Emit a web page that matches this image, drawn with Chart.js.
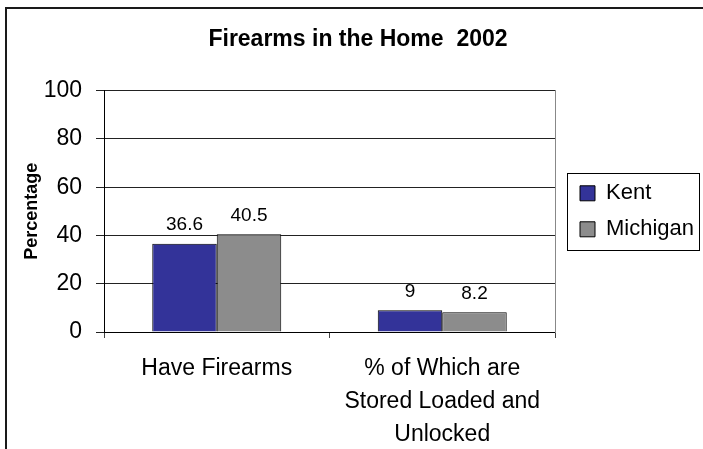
<!DOCTYPE html>
<html>
<head>
<meta charset="utf-8">
<title>Firearms in the Home 2002</title>
<script src="https://cdn.jsdelivr.net/npm/chart.js@4/dist/chart.umd.min.js"></script>
<style>
  body { margin: 0; background: #fff; }
  .wrap { position: relative; width: 703px; height: 449px; overflow: hidden; background: #fff; }
  .frame { position: absolute; left: 5px; top: 7px; width: 800px; height: 600px; border: 2px solid #1a1a1a; }
  #chart { position: absolute; left: 0; top: 0; }
</style>
</head>
<body>
<div class="wrap">
  <div class="frame"></div>
  <canvas id="chart" width="703" height="449"></canvas>
</div>
<script>
const categories = ['Have Firearms', ['% of Which are', 'Stored Loaded and', 'Unlocked']];
const kentValues = [36.6, 9];
const michiganValues = [40.5, 8.2];
const percentTicks = [0, 20, 40, 60, 80, 100];

const FONT = '"Liberation Sans", Arial, sans-serif';

Chart.defaults.color = '#000';
Chart.defaults.font.family = FONT;

// numbers above each bar
const valueLabels = {
    id: 'valueLabels',
    afterDatasetsDraw(chart) {
        let ctx = chart.ctx;
        ctx.save();
        ctx.font = '19px ' + FONT;
        ctx.fillStyle = '#000';
        ctx.textAlign = 'center';
        ctx.textBaseline = 'bottom';
        chart.data.datasets.forEach((ds, i) => {
            chart.getDatasetMeta(i).data.forEach((bar, j) => {
                ctx.fillText(ds.data[j], bar.x, bar.y - 9);
            });
        });
        ctx.restore();
    }
};

// box around the legend entries
const legendFrame = {
    id: 'legendFrame',
    afterDraw(chart) {
        let lg = chart.legend;
        let boxes = lg.legendHitBoxes;
        if (!boxes || !boxes.length) return;
        let last = boxes[boxes.length - 1];
        let ctx = chart.ctx;
        let left = Math.round(lg.left) + 1.5;
        let right = Math.round(lg.right) + 5.5;
        let top = Math.round(boxes[0].top) - 8.5;
        let bottom = Math.round(last.top + last.height) + 10.5;
        ctx.save();
        ctx.strokeStyle = '#000';
        ctx.lineWidth = 1;
        ctx.strokeRect(left, top, right - left, bottom - top);
        ctx.restore();
    }
};

new Chart(document.getElementById('chart'), {
    type: 'bar',
    data: {
        labels: categories,
        datasets: [{
            label: 'Kent',
            data: kentValues,
            backgroundColor: '#333399',
            borderColor: '#000',
            borderWidth: 1
        }, {
            label: 'Michigan',
            data: michiganValues,
            backgroundColor: '#8c8c8c',
            borderColor: '#000',
            borderWidth: 1
        }]
    },
    options: {
        responsive: false,
        animation: false,
        layout: { padding: { left: 22, right: 9, top: 0, bottom: 0 } },
        datasets: {
            bar: { categoryPercentage: 0.572, barPercentage: 1.0 }
        },
        scales: {
            x: {
                grid: { offset: true, drawOnChartArea: false, tickLength: 6, color: '#444' },
                border: { color: '#000' },
                ticks: {
                    padding: 14,
                    maxRotation: 0,
                    autoSkip: false,
                    font: { size: 23, lineHeight: 1.435 }
                },
                afterFit(scale) { scale.height = 117; }
            },
            y: {
                min: 0,
                max: 100,
                afterBuildTicks(scale) {
                    scale.ticks = percentTicks.map(v => ({ value: v }));
                },
                grid: { color: '#222', tickLength: 8 },
                border: { color: '#000' },
                ticks: { padding: 14, font: { size: 23 } },
                title: {
                    display: true,
                    text: 'Percentage',
                    font: { size: 18, weight: 'bold', lineHeight: 1 },
                    padding: { top: 1, bottom: 0 }
                },
                afterFit(scale) { scale.width = 82; }
            },
            // spacer on the right that also draws the plot's right edge
            edge: {
                position: 'right',
                grid: { display: false },
                ticks: { display: false },
                border: { color: '#888' },
                afterFit(scale) { scale.width = 11; }
            }
        },
        plugins: {
            title: {
                display: true,
                text: 'Firearms in the Home  2002',
                font: { size: 23, weight: 'bold' },
                padding: { top: 26, bottom: 37 }
            },
            legend: {
                position: 'right',
                fullSize: false,
                maxWidth: 128,
                labels: {
                    boxWidth: 15,
                    boxHeight: 15,
                    padding: 14,
                    font: { size: 22 }
                }
            },
            tooltip: { enabled: false }
        }
    },
    plugins: [valueLabels, legendFrame]
});
</script>
</body>
</html>
